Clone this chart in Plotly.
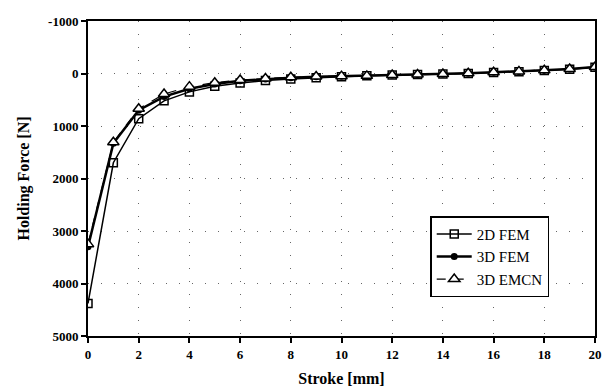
import plotly.graph_objects as go

stroke = list(range(0, 21))
fem2d = [4380, 1700, 860, 520, 350, 245, 180, 135, 105, 80, 60, 45, 30, 20, 10, 0, -20, -35, -55, -80, -120]
fem3d = [3300, 1330, 700, 440, 290, 200, 140, 105, 80, 62, 52, 45, 30, 20, 10, -5, -25, -40, -60, -85, -125]
emcn3d = [3250, 1310, 670, 390, 250, 175, 125, 95, 72, 58, 50, 45, 28, 20, 10, -5, -25, -40, -60, -85, -125]

x_ticks = [0, 2, 4, 6, 8, 10, 12, 14, 16, 18, 20]
y_ticks = [-1000, 0, 1000, 2000, 3000, 4000, 5000]

SERIF = "Liberation Serif"

fig = go.Figure()
fig.add_trace(go.Scatter(x=stroke, y=fem2d, name="2D FEM", mode="lines+markers",
                         line=dict(color="black", width=1.5),
                         marker=dict(symbol="square-open", size=8, color="black", line=dict(width=1.5))))
fig.add_trace(go.Scatter(x=stroke, y=fem3d, name="3D FEM", mode="lines+markers",
                         line=dict(color="black", width=2.5),
                         marker=dict(symbol="circle", size=7, color="black")))
fig.add_trace(go.Scatter(x=stroke, y=emcn3d, name="3D EMCN", mode="lines+markers",
                         line=dict(color="black", width=1.2, dash="dash"),
                         marker=dict(symbol="triangle-up", size=10, color="white", line=dict(color="black", width=1.5))))

def axis_common():
    return dict(showline=True, linecolor="black", linewidth=2, mirror=True,
                ticks="outside", ticklen=5, tickwidth=1.5, tickcolor="black",
                showgrid=True, gridcolor="#666666", gridwidth=1, griddash="1px,12px",
                zeroline=False,
                tickfont=dict(family=SERIF, size=13, color="black"))

fig.update_xaxes(range=[0, 20], tickmode="array", tickvals=x_ticks,
                 ticktext=["<b>%d</b>" % v for v in x_ticks],
                 title=dict(text="<b>Stroke [mm]</b>", font=dict(family=SERIF, size=16, color="black"), standoff=12),
                 **axis_common())
fig.update_yaxes(range=[5000, -1000], tickmode="array", tickvals=y_ticks,
                 ticktext=["<b>%d</b>" % v for v in y_ticks],
                 title=dict(text="<b>Holding Force [N]</b>", font=dict(family=SERIF, size=16, color="black"), standoff=14),
                 **axis_common())

fig.update_layout(
    width=603, height=383,
    margin=dict(l=80, r=16, t=6, b=48),
    paper_bgcolor="white", plot_bgcolor="white",
    font=dict(family=SERIF, color="black"),
    showlegend=True,
    legend=dict(x=0.675, y=0.38, xanchor="left", yanchor="top",
                bgcolor="white", bordercolor="black", borderwidth=1.5,
                font=dict(family=SERIF, size=15, color="black"),
                itemwidth=35, tracegroupgap=0),
)

fig.write_html("out.html")
